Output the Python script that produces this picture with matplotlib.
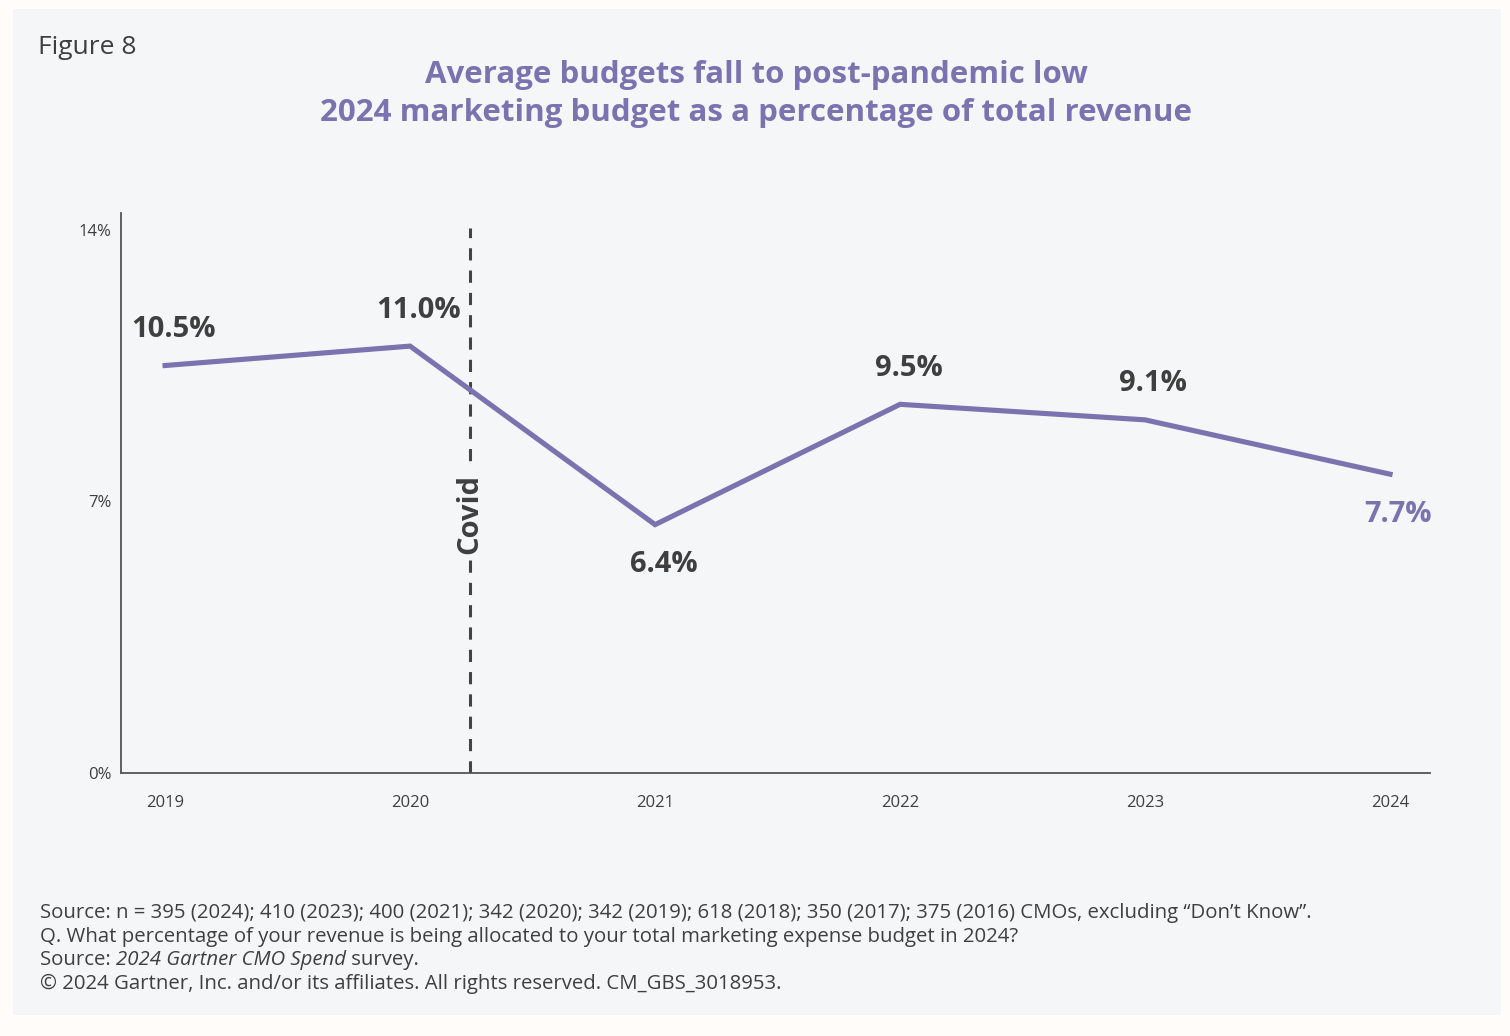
import matplotlib
matplotlib.use("Agg")
import matplotlib.pyplot as plt
from matplotlib.patches import Rectangle

# data
years = ["2019", "2020", "2021", "2022", "2023", "2024"]
budget_pct = [10.5, 11.0, 6.4, 9.5, 9.1, 7.7]
label_above = [True, True, False, True, True, False]
y_ticks = [0, 7, 14]
y_tick_labels = ["0%", "7%", "14%"]
covid_pos = 1.245

title = ("Average budgets fall to post-pandemic low\n"
         "2024 marketing budget as a percentage of total revenue")
notes = [
    "Source: n = 395 (2024); 410 (2023); 400 (2021); 342 (2020); 342 (2019); "
    "618 (2018); 350 (2017); 375 (2016) CMOs, excluding \u201cDon\u2019t Know\u201d.",
    "Q. What percentage of your revenue is being allocated to your total "
    "marketing expense budget in 2024?",
]
copyright_note = ("\u00a9 2024 Gartner, Inc. and/or its affiliates. "
                  "All rights reserved. CM_GBS_3018953.")

PURPLE = "#7b73b0"
DARK = "#3f3f3f"
PANEL = "#f5f6f7"

plt.rcParams["font.family"] = ["Open Sans", "DejaVu Sans"]

W, H = 1510, 1036
fig = plt.figure(figsize=(W / 100, H / 100), dpi=100, facecolor="#fffcf9")
fig.patches.append(Rectangle((13 / W, 1 - 1015 / H), 1488 / W, 1006 / H,
                             transform=fig.transFigure, facecolor=PANEL,
                             edgecolor="none", zorder=-5))

ax = fig.add_axes([121 / W, 1 - 773 / H, 1309 / W, 560 / H])
ax.set_facecolor("none")
ax.set_zorder(2)

x = list(range(len(years)))
ax.plot(x, budget_pct, color=PURPLE, lw=3.7, solid_joinstyle="miter", zorder=3)

for i, (v, up) in enumerate(zip(budget_pct, label_above)):
    col = PURPLE if i == len(years) - 1 else DARK
    dy = 26 if up else -29
    ax.annotate(f"{v:.1f}%", (i, v), xytext=(6, dy), textcoords="offset points",
                ha="center", va="center", fontsize=21, fontweight="bold",
                color=col, zorder=4)

ax.vlines(covid_pos, 0, 14.05, colors="#444444", linestyles=(0, (4, 3.3)),
          lw=2.2, zorder=2)
ax.text(covid_pos, 6.68, "Covid", rotation=90, ha="center", va="center",
        fontsize=21, fontweight="bold", color=DARK, zorder=3,
        bbox=dict(facecolor=PANEL, edgecolor="none", pad=4))

ax.set_xlim(-0.18, 5.163)
ax.set_ylim(0, 14.43)
ax.set_xticks(x)
ax.set_xticklabels(years)
ax.set_yticks(y_ticks)
ax.set_yticklabels(y_tick_labels)
ax.tick_params(length=0, labelsize=12, labelcolor=DARK)
ax.tick_params(axis="x", pad=16)
ax.tick_params(axis="y", pad=7)
for side in ["top", "right"]:
    ax.spines[side].set_visible(False)
for side in ["left", "bottom"]:
    ax.spines[side].set_color("#555555")
    ax.spines[side].set_linewidth(1.3)

fig.text(38 / W, 1 - 47 / H, "Figure 8", fontsize=19, color=DARK,
         ha="left", va="center")
fig.text(756 / W, 1 - 94 / H, title, fontsize=22.5, fontweight="bold",
         color=PURPLE, ha="center", va="center", linespacing=1.38)

fs = 14.7
line_h = 23.7
y0 = 913
for k, line in enumerate(notes):
    fig.text(40 / W, 1 - (y0 + k * line_h) / H, line, fontsize=fs,
             color=DARK, ha="left", va="center")

# source line with italic survey name
renderer = fig.canvas.get_renderer()
yy = 1 - (y0 + 2 * line_h) / H
xx = 40 / W
for part, style in [("Source: ", "normal"), ("2024 Gartner CMO Spend", "italic"),
                    (" survey.", "normal")]:
    t = fig.text(xx, yy, part, fontsize=fs, color=DARK, style=style,
                 ha="left", va="center")
    xx += t.get_window_extent(renderer).width / W
fig.text(40 / W, 1 - (y0 + 3 * line_h) / H, copyright_note, fontsize=fs,
         color=DARK, ha="left", va="center")

fig.savefig("out.png", dpi=100, facecolor=fig.get_facecolor())
